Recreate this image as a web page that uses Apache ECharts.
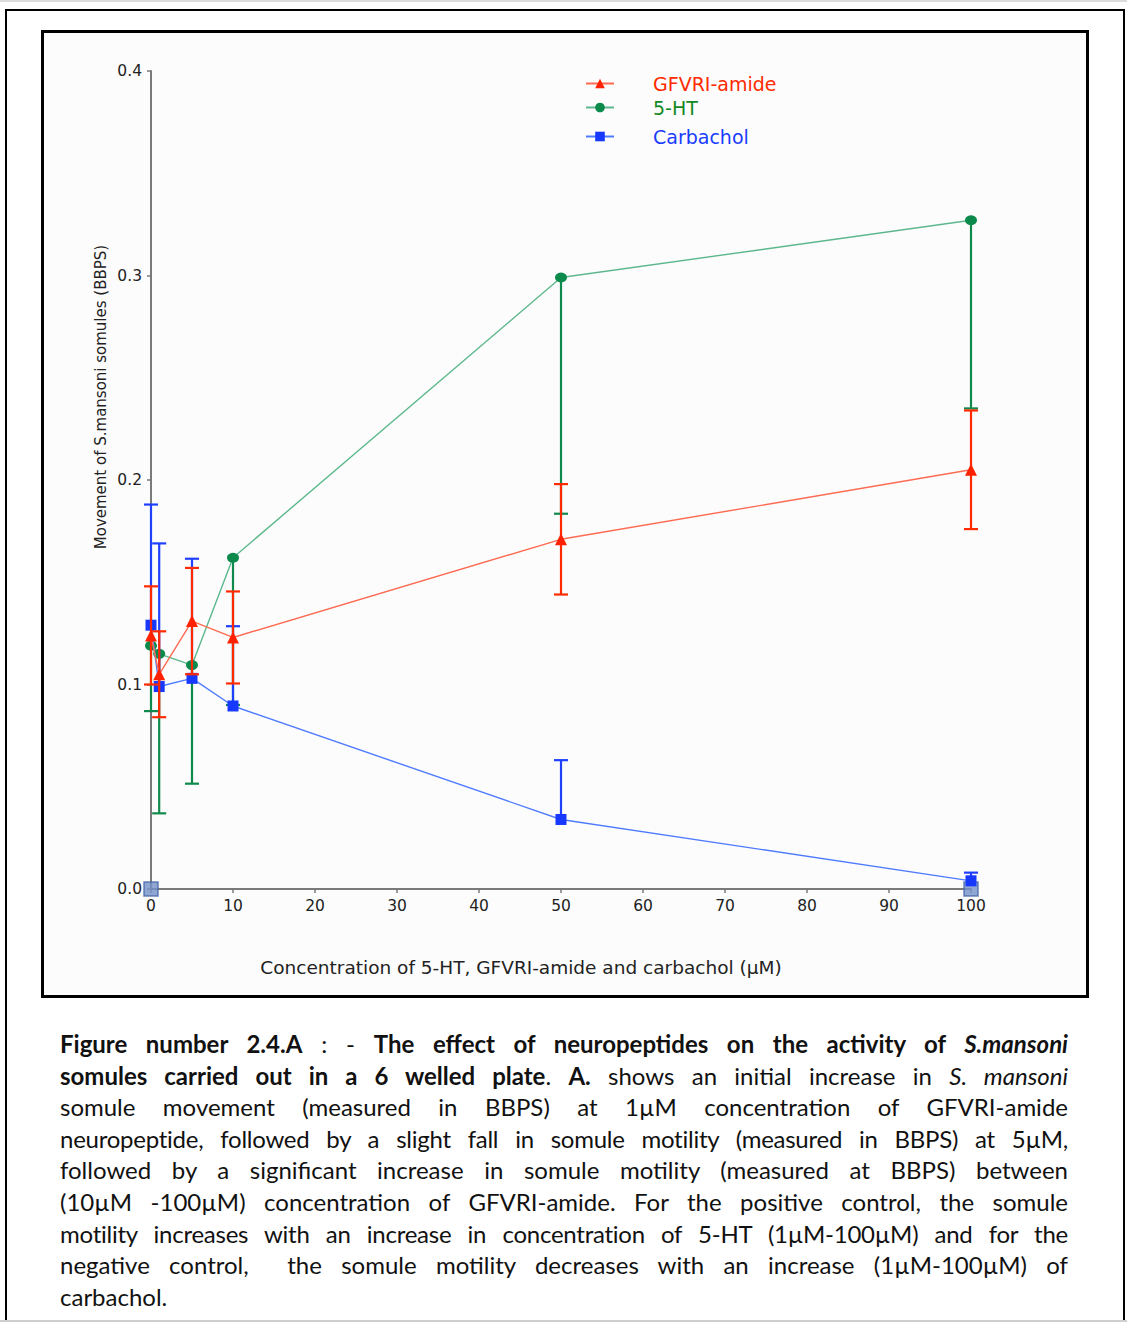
<!DOCTYPE html>
<html>
<head>
<meta charset="utf-8">
<script src="https://cdn.jsdelivr.net/npm/echarts@6/dist/echarts.min.js"></script>
<style>
    html, body { margin: 0; padding: 0; background: #fff; }
    body { width: 1127px; height: 1322px; position: relative; overflow: hidden; }
    #topline { position: absolute; left: 0; top: 0; width: 1127px; height: 2px; background: #dcdcdc; }
    #bottomline { position: absolute; left: 0; top: 1320px; width: 1127px; height: 2px; background: #cfcfcf; }
    #outer { position: absolute; left: 5px; top: 9px; width: 1120px; height: 1340px; border: 2px solid #000; box-sizing: border-box; }
    #inner { position: absolute; left: 41px; top: 30px; width: 1048px; height: 968px; border: 3px solid #000; box-sizing: border-box; background: #fcfcfc; }
    #chart { position: absolute; left: 0; top: 0; width: 1127px; height: 1000px; }
    #caption { position: absolute; left: 60px; top: 1028px; width: 1008px; font-family: Lato, "Open Sans", sans-serif; font-size: 24px; color: #111; }
    #caption div { height: 31.6px; line-height: 31.6px; white-space: nowrap; text-align: justify; text-align-last: justify; }
    #caption div.tight { letter-spacing: -0.25px; }
    #caption div.last { text-align-last: left; }
</style>
</head>
<body>
<div id="topline"></div>
<div id="outer"></div>
<div id="inner"></div>
<div id="chart"></div>
<div id="caption">
    <div><b>Figure number 2.4.A</b> : - <b>The effect of neuropeptides on the activity of <i>S.mansoni</i></b></div>
    <div><b>somules carried out in a 6 welled plate</b>. <b>A.</b> shows an initial increase in <i>S. mansoni</i></div>
    <div>somule movement (measured in BBPS) at 1µM concentration of GFVRI-amide</div>
    <div class="tight">neuropeptide, followed by a slight fall in somule motility (measured in BBPS) at 5µM,</div>
    <div>followed by a significant increase in somule motility (measured at BBPS) between</div>
    <div>(10µM -100µM) concentration of GFVRI-amide. For the positive control, the somule</div>
    <div class="tight">motility increases with an increase in concentration of 5-HT (1µM-100µM) and for the</div>
    <div>negative control, &nbsp;the somule motility decreases with an increase (1µM-100µM) of</div>
    <div class="last">carbachol.</div>
</div>
<div id="bottomline"></div>
<script>
// 浓度 (µM)
const concentrations = [0, 1, 5, 10, 50, 100]

// GFVRI-amide 均值和误差
const gfvriMean = [0.124, 0.105, 0.131, 0.123, 0.171, 0.205]
const gfvriErr = [0.024, 0.021, 0.026, 0.0225, 0.027, 0.029]

// 5-HT 均值和误差 (只画下方)
const htMean = [0.119, 0.115, 0.1095, 0.162, 0.299, 0.327]
const htErr = [0.032, 0.078, 0.058, 0.072, 0.1155, 0.092]

// Carbachol 均值和误差 (只画上方)
const carbMean = [0.129, 0.099, 0.103, 0.0895, 0.034, 0.004]
const carbErr = [0.059, 0.070, 0.0585, 0.039, 0.029, 0.004]

// 坐标轴底部的灰色方块
const baseX = [0, 100]
const baseY = [0, 0]

// 坐标轴范围
const xMin = 0, xMax = 100, xStep = 10
const yMin = 0, yMax = 0.4, yStep = 0.1

const xName = 'Concentration of 5-HT, GFVRI-amide and carbachol (µM)'
const yName = 'Movement of S.mansoni somules (BBPS)'

const FONT = '"DejaVu Sans", "Liberation Sans", sans-serif'

// 误差线
function errorBars(name, means, errs, dir, color, z) {
    return {
        name: name,
        type: 'custom',
        z: z,
        encode: { x: 0, y: 1 },
        data: concentrations.map((x, i) => [x, means[i], errs[i]]),
        renderItem: function (params, api) {
            const x = api.value(0)
            const m = api.value(1)
            const e = api.value(2)
            const top = api.coord([x, dir === 'down' ? m : m + e])
            const bottom = api.coord([x, dir === 'up' ? m : m - e])
            const half = 7
            const style = { stroke: color, lineWidth: 2.2 }
            const children = [{
                type: 'line',
                shape: { x1: top[0], y1: top[1], x2: bottom[0], y2: bottom[1] },
                style: style
            }]
            if (dir !== 'down') {
                children.push({ type: 'line', shape: { x1: top[0] - half, y1: top[1], x2: top[0] + half, y2: top[1] }, style: style })
            }
            if (dir !== 'up') {
                children.push({ type: 'line', shape: { x1: bottom[0] - half, y1: bottom[1], x2: bottom[0] + half, y2: bottom[1] }, style: style })
            }
            return { type: 'group', children: children }
        }
    }
}

// 折线
function lineSeries(name, means, symbol, size, markColor, lineColor, z) {
    return {
        name: name,
        type: 'line',
        z: z,
        data: concentrations.map((x, i) => [x, means[i]]),
        symbol: symbol,
        symbolSize: size,
        itemStyle: { color: markColor },
        lineStyle: { color: lineColor, width: 1.4 },
        emphasis: { disabled: true }
    }
}

function legendItem(name, top, color) {
    return {
        data: [name],
        left: 585,
        top: top,
        padding: 0,
        itemWidth: 28,
        itemHeight: 12,
        textStyle: { color: color, fontSize: 19, fontFamily: FONT, padding: [0, 0, 0, 34] },
        selectedMode: false
    }
}

const chart = echarts.init(document.getElementById('chart'), null, { renderer: 'svg' })

chart.setOption({
    animation: false,
    backgroundColor: 'transparent',
    grid: { left: 151, top: 71, width: 820, height: 818 },
    legend: [
        legendItem('GFVRI-amide', 74, '#ff2a00'),
        legendItem('5-HT', 98, '#138a24'),
        legendItem('Carbachol', 127, '#1a3cff')
    ],
    xAxis: {
        type: 'value',
        min: xMin,
        max: xMax,
        interval: xStep,
        splitLine: { show: false },
        axisLine: { lineStyle: { color: '#7a7a7a', width: 2 } },
        axisTick: { length: 4, lineStyle: { color: '#7a7a7a', width: 1.5 } },
        axisLabel: { color: '#222', fontSize: 15.5, fontFamily: FONT, margin: 9 }
    },
    yAxis: {
        type: 'value',
        min: yMin,
        max: yMax,
        interval: yStep,
        splitLine: { show: false },
        axisLine: { show: true, lineStyle: { color: '#7a7a7a', width: 2 } },
        axisTick: { show: true, length: 4, lineStyle: { color: '#7a7a7a', width: 1.5 } },
        axisLabel: { color: '#222', fontSize: 15.5, fontFamily: FONT, margin: 9, formatter: v => v.toFixed(1) }
    },
    graphic: [
        {
            type: 'text',
            x: 101,
            y: 397,
            rotation: Math.PI / 2,
            style: { text: yName, fill: '#222', font: '15px ' + FONT, textAlign: 'center', textVerticalAlign: 'middle' }
        },
        {
            type: 'text',
            x: 521,
            y: 967,
            style: { text: xName, fill: '#222', font: '18.5px ' + FONT, textAlign: 'center', textVerticalAlign: 'middle' }
        }
    ],
    series: [
        {
            name: 'base',
            type: 'scatter',
            z: 1,
            symbol: 'rect',
            symbolSize: 14,
            data: baseX.map((x, i) => [x, baseY[i]]),
            itemStyle: { color: '#7490c8', borderColor: '#4766a6', borderWidth: 1.5 }
        },
        errorBars('5-HT err', htMean, htErr, 'down', '#108a4c', 2),
        lineSeries('5-HT', htMean, 'circle', [12, 10], '#0b8a4c', '#5cb88c', 2),
        errorBars('Carbachol err', carbMean, carbErr, 'up', '#1f40ff', 3),
        lineSeries('Carbachol', carbMean, 'rect', 11, '#1638ff', '#4f7cff', 3),
        errorBars('GFVRI-amide err', gfvriMean, gfvriErr, 'both', '#ff2a00', 4),
        lineSeries('GFVRI-amide', gfvriMean, 'triangle', 12, '#ff2200', '#ff6b52', 4)
    ]
})
</script>
</body>
</html>
